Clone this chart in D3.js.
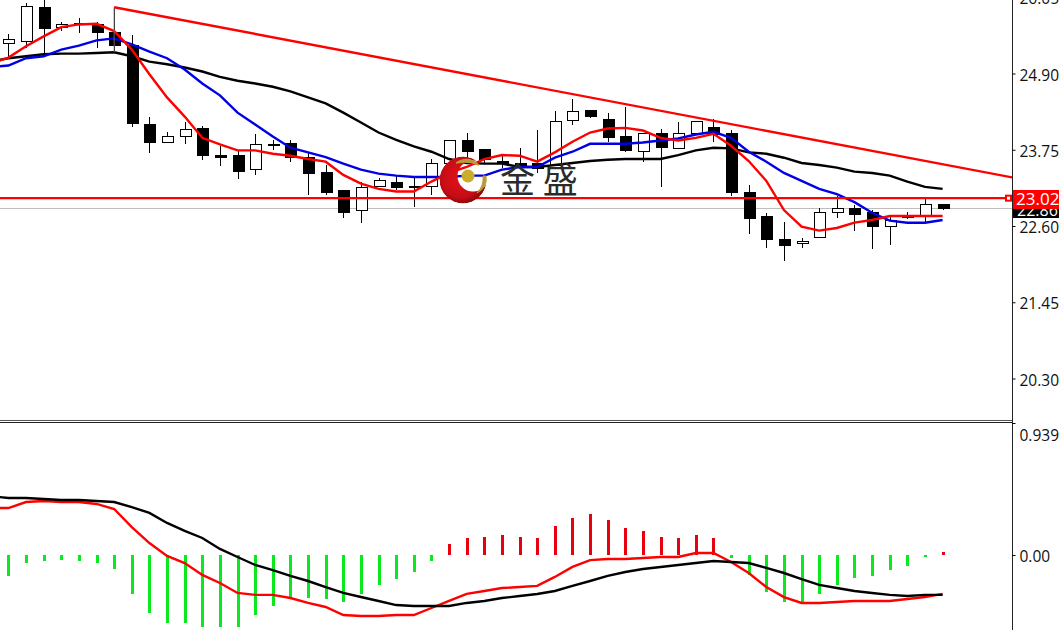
<!DOCTYPE html>
<html><head><meta charset="utf-8">
<script src="https://cdn.jsdelivr.net/npm/d3@7"></script>
<style>html,body{margin:0;padding:0;background:#fff;overflow:hidden}svg{display:block}</style>
</head><body><svg id="c" width="1059" height="630"></svg>
<script>
const opens=[25.35,25.38,25.90,25.60,25.66,25.64,25.52,25.32,24.13,23.86,23.95,24.07,23.66,23.66,23.45,23.83,23.84,23.63,23.40,23.13,22.83,23.19,23.25,23.19,23.19,23.54,23.89,23.75,23.57,23.54,23.54,23.52,24.19,24.34,24.20,23.95,23.72,24.00,23.77,23.99,24.08,23.99,23.11,22.74,22.40,22.33,22.43,22.81,22.86,22.80,22.59,22.75,22.74,22.92];
const highs=[25.49,25.96,26.10,25.67,25.73,25.67,25.90,25.48,24.25,24.02,24.17,24.11,23.80,23.75,23.99,23.90,23.90,23.71,23.52,23.15,23.27,23.33,23.37,23.33,23.61,23.89,24.01,23.75,23.67,23.78,24.05,24.33,24.52,24.34,24.30,24.39,24.00,24.07,24.17,24.19,24.22,24.05,23.22,22.80,22.66,22.42,22.87,23.05,22.92,22.84,22.74,22.81,23.04,22.92];
const lows=[25.14,25.29,25.16,25.54,25.51,25.29,25.22,24.10,23.70,23.86,23.84,23.60,23.51,23.31,23.37,23.74,23.57,23.07,23.07,22.72,22.65,23.19,23.15,22.89,23.07,23.51,23.64,23.55,23.48,23.49,23.40,23.52,24.13,24.23,23.86,23.71,23.57,23.19,23.77,23.98,23.86,23.05,22.48,22.27,22.07,22.27,22.43,22.72,22.53,22.25,22.31,22.71,22.66,22.84];
const closes=[25.41,25.91,25.58,25.64,25.64,25.52,25.32,24.14,23.86,23.95,24.05,23.67,23.64,23.42,23.83,23.81,23.64,23.39,23.11,22.81,23.18,23.28,23.18,23.18,23.54,23.89,23.72,23.60,23.54,23.52,23.46,24.17,24.33,24.25,23.93,23.74,24.00,23.78,24.00,24.17,23.98,23.10,22.72,22.40,22.30,22.37,22.80,22.87,22.78,22.59,22.69,22.74,22.92,22.86];
// moving averages: first value sits one bar left of the visible window
const maFast=[25.05,25.14,25.31,25.46,25.60,25.64,25.65,25.54,25.26,24.89,24.54,24.25,23.93,23.83,23.74,23.74,23.69,23.66,23.61,23.57,23.37,23.24,23.16,23.12,23.12,23.27,23.40,23.49,23.61,23.67,23.66,23.57,23.71,23.87,24.01,24.07,24.08,24.04,23.93,23.89,23.93,23.99,23.81,23.58,23.28,22.84,22.59,22.53,22.57,22.65,22.69,22.75,22.75,22.75,22.75];
const maMid=[25.00,25.02,25.13,25.16,25.26,25.32,25.40,25.43,25.34,25.23,25.13,24.96,24.75,24.57,24.31,24.13,23.95,23.78,23.71,23.64,23.54,23.45,23.39,23.36,23.34,23.34,23.34,23.36,23.36,23.45,23.49,23.49,23.63,23.72,23.84,23.84,23.84,23.86,23.89,23.92,23.98,24.02,23.93,23.72,23.57,23.40,23.28,23.16,23.08,22.96,22.80,22.68,22.65,22.65,22.69];
const maSlow=[25.08,25.13,25.16,25.19,25.20,25.20,25.21,25.22,25.16,25.08,25.04,24.99,24.93,24.85,24.79,24.75,24.70,24.63,24.54,24.45,24.31,24.16,24.01,23.90,23.80,23.72,23.61,23.55,23.54,23.54,23.49,23.49,23.52,23.55,23.58,23.60,23.61,23.61,23.61,23.67,23.74,23.78,23.77,23.71,23.69,23.63,23.55,23.52,23.48,23.42,23.40,23.36,23.27,23.19,23.16];
const macdHist=[-0.149,-0.057,-0.043,-0.036,-0.043,-0.057,-0.100,-0.277,-0.412,-0.483,-0.483,-0.512,-0.512,-0.512,-0.427,-0.363,-0.313,-0.306,-0.313,-0.334,-0.277,-0.213,-0.171,-0.121,-0.043,0.078,0.121,0.128,0.142,0.128,0.121,0.206,0.263,0.292,0.249,0.192,0.171,0.128,0.121,0.142,0.121,-0.021,-0.142,-0.263,-0.334,-0.341,-0.277,-0.213,-0.164,-0.149,-0.107,-0.078,-0.014,0.021];
const macdLine=[0.419,0.405,0.405,0.398,0.391,0.391,0.384,0.377,0.341,0.299,0.228,0.171,0.121,0.043,-0.014,-0.071,-0.107,-0.149,-0.185,-0.228,-0.270,-0.299,-0.327,-0.356,-0.363,-0.363,-0.363,-0.341,-0.327,-0.306,-0.292,-0.277,-0.256,-0.220,-0.185,-0.149,-0.121,-0.100,-0.085,-0.071,-0.057,-0.043,-0.050,-0.057,-0.092,-0.128,-0.171,-0.213,-0.235,-0.256,-0.270,-0.284,-0.292,-0.284,-0.284];
const signalLine=[0.334,0.334,0.377,0.384,0.377,0.377,0.363,0.327,0.199,0.085,-0.007,-0.057,-0.142,-0.199,-0.270,-0.284,-0.284,-0.306,-0.341,-0.370,-0.427,-0.434,-0.434,-0.427,-0.427,-0.377,-0.327,-0.277,-0.256,-0.235,-0.228,-0.220,-0.156,-0.085,-0.036,-0.028,-0.028,-0.021,-0.014,-0.014,0.014,0.014,-0.050,-0.128,-0.228,-0.299,-0.341,-0.341,-0.334,-0.327,-0.327,-0.327,-0.313,-0.299,-0.277];
const priceTicks=[26.05,24.90,23.75,22.60,21.45,20.30];
const macdTicks=[0.939,0];
const trendIdx=[6,57];
const trendVal=[25.90,23.33];
const resistance=23.02;
const bid=22.86;
const logoText="金 盛";

const svg=d3.select("#c");
const axisX=1012;
const x=d3.scaleLinear().domain([0,53]).range([8.4,942.6]);
const y=d3.scaleLinear().domain([20.30,24.90]).range([378.5,73.5]);
const m=d3.scaleLinear().domain([0,0.939]).range([555,423]);
const defs=svg.append("defs");
defs.append("clipPath").attr("id","top").append("rect").attr("x",0).attr("y",0).attr("width",axisX).attr("height",420);
defs.append("clipPath").attr("id","bot").append("rect").attr("x",0).attr("y",423).attr("width",axisX).attr("height",207);
const top_=svg.append("g").attr("clip-path","url(#top)");
const bot=svg.append("g").attr("clip-path","url(#bot)");

// reference lines
top_.append("line").attr("x1",0).attr("x2",axisX).attr("y1",y(bid)).attr("y2",y(bid)).attr("stroke","#bdbdbd").attr("stroke-width",1).attr("shape-rendering","crispEdges");

// candles
const idx=d3.range(opens.length);
const px=i=>Math.round(x(i))+0.5;
const c=top_.append("g").attr("shape-rendering","crispEdges").selectAll("g").data(idx).join("g");
c.append("line").attr("x1",px).attr("x2",px).attr("y1",i=>y(highs[i])).attr("y2",i=>y(lows[i])).attr("stroke","#000");
c.append("rect").attr("x",i=>px(i)-5.5).attr("width",11)
 .attr("y",i=>y(Math.max(opens[i],closes[i])))
 .attr("height",i=>Math.max(1,Math.abs(y(opens[i])-y(closes[i]))))
 .attr("fill",i=>closes[i]>=opens[i]?"#fff":"#000").attr("stroke","#000");

// moving averages
const ln=(sc)=>d3.line().x((d,i)=>x(i-1)).y(d=>sc(d));
[[maSlow,"#000"],[maMid,"#0000e6"],[maFast,"#f00"]].forEach(([a,col])=>{
 top_.append("path").attr("d",ln(y)(a)).attr("fill","none").attr("stroke",col).attr("stroke-width",2.4);
});
// trend line + horizontal
top_.append("path").attr("d",d3.line().x(i=>x(trendIdx[i])).y(i=>y(trendVal[i]))([0,1])).attr("fill","none").attr("stroke","#f00").attr("stroke-width",2.4);
top_.append("line").attr("x1",x(trendIdx[0])).attr("x2",x(trendIdx[0])).attr("y1",y(trendVal[0])).attr("y2",y(25.22)).attr("stroke","#666").attr("stroke-width",1);
top_.append("line").attr("x1",0).attr("x2",axisX).attr("y1",y(resistance)).attr("y2",y(resistance)).attr("stroke","#f00").attr("stroke-width",2.4);
top_.append("rect").attr("x",1006).attr("y",y(resistance)-2.5).attr("width",5).attr("height",5).attr("fill","#fff").attr("stroke","#f00").attr("stroke-width",2);

// logo (watermark)
const grad=defs.append("radialGradient").attr("id","rg").attr("cx","0.45").attr("cy","0.45").attr("r","0.6");
grad.append("stop").attr("offset","0").attr("stop-color","#e8101c");
grad.append("stop").attr("offset","0.7").attr("stop-color","#c40d14");
grad.append("stop").attr("offset","1").attr("stop-color","#7d0508");
const mask=defs.append("mask").attr("id","cres");
mask.append("rect").attr("x",420).attr("y",140).attr("width",90).attr("height",70).attr("fill","#000");
mask.append("circle").attr("cx",463).attr("cy",180).attr("r",23.5).attr("fill","#fff");
mask.append("circle").attr("cx",473).attr("cy",176).attr("r",15.5).attr("fill","#000");
svg.append("circle").attr("cx",463).attr("cy",180).attr("r",23.5).attr("fill","url(#rg)").attr("mask","url(#cres)");
svg.append("circle").attr("cx",468).attr("cy",176).attr("r",6.5).attr("fill","#c9ad2c");
svg.append("path").attr("d","M456 163 Q468 155 479 165 Q468 160 456 163Z").attr("fill","#b89a3a").attr("stroke","#b89a3a").attr("stroke-width",1.5);
svg.append("path").attr("d","M486 176 Q488 187 477 193 Q484 186 483 176Z").attr("fill","#b89a3a").attr("stroke","#b89a3a").attr("stroke-width",1);
svg.append("text").attr("x",500).attr("y",193).text(logoText).attr("xml:space","preserve")
 .attr("font-family","'Noto Sans CJK SC'").attr("font-size",35).attr("fill","#2b2b2b").attr("font-weight",400);

// MACD panel
bot.append("g").attr("shape-rendering","crispEdges").selectAll("rect").data(macdHist).join("rect")
 .attr("x",(d,i)=>Math.round(x(i))-1).attr("width",3)
 .attr("y",d=>Math.min(m(d),m(0))).attr("height",d=>Math.abs(m(d)-m(0)))
 .attr("fill",d=>d>=0?"#e8000f":"#0be81e");
[[signalLine,"#f00"],[macdLine,"#000"]].forEach(([a,col])=>{
 bot.append("path").attr("d",ln(m)(a)).attr("fill","none").attr("stroke",col).attr("stroke-width",2.4);
});

// frame
svg.append("line").attr("x1",axisX+.5).attr("x2",axisX+.5).attr("y1",0).attr("y2",630).attr("stroke","#222").attr("shape-rendering","crispEdges");
svg.append("line").attr("x1",0).attr("x2",axisX).attr("y1",420).attr("y2",420).attr("stroke","#555").attr("shape-rendering","crispEdges");
svg.append("line").attr("x1",0).attr("x2",axisX).attr("y1",422).attr("y2",422).attr("stroke","#222").attr("shape-rendering","crispEdges");

// axes
const font="'Open Sans'";
const ax=svg.append("g").attr("transform",`translate(${axisX+.5},0)`).call(d3.axisRight(y).tickValues(priceTicks).tickSize(3).tickPadding(4).tickFormat(d3.format(".2f")));
ax.select(".domain").remove();
ax.selectAll("text").attr("font-family",font).attr("font-size",15.5).attr("fill","#111").attr("dy","0.42em");
const mx=svg.append("g").attr("transform",`translate(${axisX+.5},0)`).call(d3.axisRight(m).tickValues(macdTicks).tickSize(3).tickPadding(4).tickFormat(d=>d?d3.format(".3f")(d):"0.00"));
mx.select(".domain").remove();
mx.selectAll("text").attr("font-family",font).attr("font-size",15.5).attr("fill","#111").attr("dy",(d)=>d?"1.1em":"0.42em");

// price tags
svg.append("rect").attr("x",1013).attr("y",203).attr("width",46).attr("height",15).attr("fill","#000");
svg.append("text").attr("x",1017).attr("y",216).text(bid.toFixed(2)).attr("font-family",font).attr("font-size",16).attr("fill","#fff");
svg.append("rect").attr("x",1013).attr("y",190).attr("width",46).attr("height",19).attr("fill","#f00");
svg.append("text").attr("x",1016).attr("y",y(resistance)+6.5).text(resistance.toFixed(2)).attr("font-family",font).attr("font-size",17).attr("fill","#fff");
</script></body></html>
